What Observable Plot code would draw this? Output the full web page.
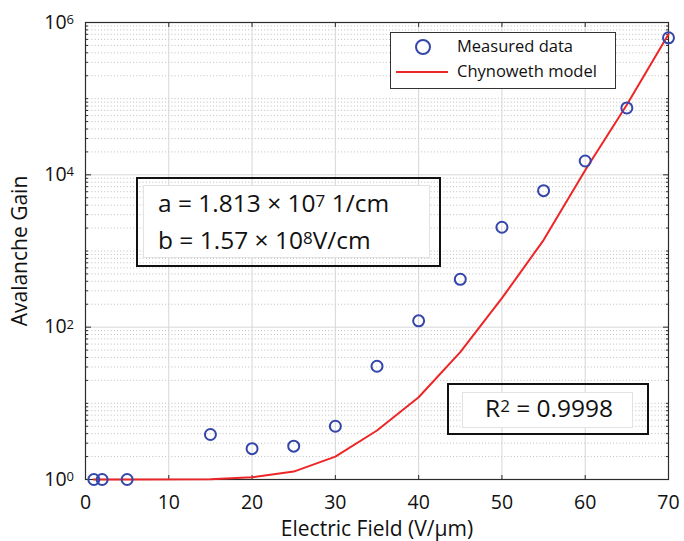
<!DOCTYPE html>
<html><head><meta charset="utf-8">
<script src="https://cdn.jsdelivr.net/npm/d3@7"></script>
<script src="https://cdn.jsdelivr.net/npm/@observablehq/plot@0.6"></script>
<style>
body{margin:0;background:#fff;}
#wrap{position:relative;width:684px;height:541px;font-family:"Open Sans",sans-serif;color:#111;}
#wrap svg{position:absolute;left:0;top:0;}
.abs{position:absolute;box-sizing:border-box;}
.outer{border:2px solid #111;}
.inner{background:#fff;border:1px solid #e2e2e2;}
.txt{position:absolute;white-space:nowrap;font-size:24.5px;line-height:1;}
.txt .sup{font-size:17px;position:relative;top:-5.4px;}
</style></head><body><div id="wrap"></div>
<script>
// Measured data
const measuredField = [1, 2, 5, 15, 20, 25, 30, 35, 40, 45, 50, 55, 60, 65, 70];
const measuredGain  = [1, 1, 1, 3.9, 2.54, 2.74, 5.0, 30.7, 121, 425, 2050, 6200, 15200, 75500, 630000];
// Chynoweth model
const modelField = [1, 2, 5, 15, 20, 25, 30, 35, 40, 45, 50, 55, 60, 65, 70];
const modelGain  = [1, 1, 1, 1.01, 1.07, 1.27, 2.0, 4.4, 12, 47, 240, 1390, 11500, 83000, 700000];
// Axes
const xTicks = [0, 10, 20, 30, 40, 50, 60, 70];
const xGrid = [10, 20, 30, 40, 50, 60];
const yMajorTicks = [1, 1e2, 1e4, 1e6];
const yMajorExp = [0, 2, 4, 6];
const yMajorGrid = [1e2, 1e4];
const yDecades = [1, 1e1, 1e2, 1e3, 1e4, 1e5];
const yMinorMultipliers = [1, 2, 3, 4, 5, 6, 7, 8, 9];

const yMinor = [];
for (const d of yDecades) for (const m of yMinorMultipliers) {
  const v = d * m;
  if (!yMajorTicks.includes(v)) yMinor.push(v);
}

const measured = measuredField.map((x, i) => ({x, y: measuredGain[i]}));
const model = modelField.map((x, i) => ({x, y: modelGain[i]}));

const axisColor = "#2b2b2b";
const noText = () => "";
const plot = Plot.plot({
  width: 684, height: 541,
  marginLeft: 85, marginRight: 16, marginTop: 22, marginBottom: 62,
  style: {fontFamily: "'Open Sans', sans-serif", fontSize: "19.5px", color: "#111", background: "transparent"},
  x: {domain: [0, 70]},
  y: {type: "log", domain: [1, 1e6]},
  marks: [
    Plot.ruleY(yMinor, {stroke: "#b8b8b8", strokeDasharray: "1,2.2", strokeWidth: 0.9}),
    Plot.ruleY(yMajorGrid, {stroke: "#d6d6d6", strokeWidth: 1}),
    Plot.ruleX(xGrid, {stroke: "#d6d6d6", strokeWidth: 1}),
    // inward tick marks
    Plot.axisY({anchor: "left", ticks: yMinor, tickSize: -3, tickFormat: noText, label: null, stroke: axisColor}),
    Plot.axisY({anchor: "right", ticks: yMinor, tickSize: -3, tickFormat: noText, label: null, stroke: axisColor}),
    Plot.axisY({anchor: "left", ticks: yMajorTicks, tickSize: -6, tickFormat: noText, label: null, stroke: axisColor}),
    Plot.axisY({anchor: "right", ticks: yMajorTicks, tickSize: -6, tickFormat: noText, label: null, stroke: axisColor}),
    Plot.axisX({anchor: "bottom", ticks: xTicks, tickSize: -4, tickFormat: noText, label: null, stroke: axisColor}),
    Plot.axisX({anchor: "top", ticks: xTicks, tickSize: -4, tickFormat: noText, label: null, stroke: axisColor}),
    // labels
    Plot.axisY({anchor: "left", ticks: yMajorTicks, tickSize: 0, tickPadding: 11.5,
      tickFormat: (d) => "10^" + yMajorExp[yMajorTicks.indexOf(d)],
      label: "Avalanche Gain", labelAnchor: "center", labelOffset: 73, labelArrow: "none"}),
    Plot.axisX({anchor: "bottom", ticks: xTicks, tickSize: 0, tickPadding: 16,
      label: "Electric Field (V/µm)", labelAnchor: "center", labelOffset: 56, labelArrow: "none"}),
    Plot.frame({stroke: axisColor, strokeWidth: 1.2}),
    Plot.line(model, {x: "x", y: "y", stroke: "#ee2526", strokeWidth: 2}),
    Plot.dot(measured, {x: "x", y: "y", r: 5.5, stroke: "#3446aa", strokeWidth: 2, fill: "none"})
  ]
});

// superscript exponents on y tick labels
d3.select(plot).selectAll('g[aria-label="y-axis tick label"] text').each(function() {
  const t = d3.select(this);
  const s = t.text();
  if (s.indexOf("^") < 0) return;
  const [base, exp] = s.split("^");
  t.text(null);
  t.append("tspan").text(base);
  t.append("tspan").attr("dy", "-4.6").attr("font-size", "13px").text(exp);
});
d3.select(plot).selectAll('g[aria-label="x-axis label"] text, g[aria-label="y-axis label"] text').attr("font-size", "21px");

const wrap = document.getElementById("wrap");
wrap.appendChild(plot);

// Legend
const legend = document.createElement("div");
legend.className = "abs";
legend.style.cssText = "left:390px;top:32px;width:226px;height:57px;border:1px solid #333;background:#fff;";
legend.innerHTML = `
  <div class="abs" style="left:24px;top:5.7px;width:16px;height:16px;border:2px solid #3446aa;border-radius:50%;"></div>
  <div class="abs" style="left:5px;top:37.7px;width:52px;height:2px;background:#ee2526;"></div>
  <div class="txt" style="left:66px;top:5.3px;font-size:16.5px;">Measured data</div>
  <div class="txt" style="left:66px;top:30.3px;font-size:16.5px;">Chynoweth model</div>`;
wrap.appendChild(legend);

// Parameter box
const box1 = document.createElement("div");
box1.className = "abs outer";
box1.style.cssText = "left:136px;top:177px;width:305px;height:90px;";
wrap.appendChild(box1);
const box1i = document.createElement("div");
box1i.className = "abs inner";
box1i.style.cssText = "left:143px;top:185px;width:287px;height:73px;";
box1i.innerHTML = `
  <div class="txt" style="left:14px;top:5.2px;">a = 1.813 × 10<span class="sup">7</span> 1/cm</div>
  <div class="txt" style="left:14px;top:42.2px;">b = 1.57 × 10<span class="sup">8</span>V/cm</div>`;
wrap.appendChild(box1i);

// R² box
const box2 = document.createElement("div");
box2.className = "abs outer";
box2.style.cssText = "left:447px;top:383px;width:202px;height:52px;";
wrap.appendChild(box2);
const box2i = document.createElement("div");
box2i.className = "abs inner";
box2i.style.cssText = "left:462px;top:392px;width:171px;height:36px;";
box2i.innerHTML = `<div class="txt" style="left:22px;top:3px;">R<span class="sup">2</span> = 0.9998</div>`;
wrap.appendChild(box2i);
</script></body></html>
